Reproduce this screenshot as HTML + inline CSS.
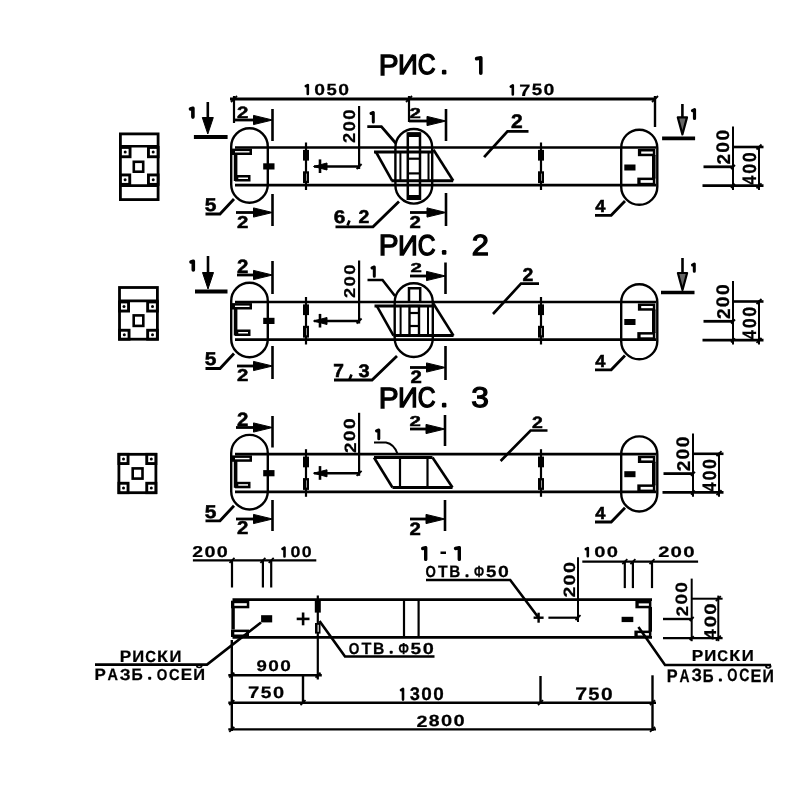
<!DOCTYPE html>
<html><head><meta charset="utf-8"><style>
html,body{margin:0;padding:0;background:#fff;}
svg{display:block;}
text{font-family:"Liberation Sans",sans-serif;fill:#000;stroke:#000;stroke-width:0.35px;text-rendering:geometricPrecision;}
</style></head><body>
<svg width="800" height="800" viewBox="0 0 800 800" stroke="#000" stroke-linecap="butt">
<defs><filter id="soft" x="0" y="0" width="800" height="800" filterUnits="userSpaceOnUse"><feGaussianBlur stdDeviation="0.3"/></filter></defs>
<rect x="0" y="0" width="800" height="800" fill="#fff" stroke="none"/>
<g stroke="#000" filter="url(#soft)">
<text transform="matrix(0.2981,0,0,0.2913,378.82,74.60)" font-size="100" font-weight="normal" style="stroke-width:4.41px">Р</text>
<text transform="matrix(0.2750,0,0,0.2768,398.00,74.10)" font-size="100" font-weight="normal" style="stroke-width:4.71px">И</text>
<text transform="matrix(0.2460,0,0,0.2831,417.77,74.32)" font-size="100" font-weight="normal" style="stroke-width:4.91px">С</text>
<rect x="441.9" y="69.7" width="4.5" height="4.7" rx="1.2" fill="#000" stroke="none"/>
<path d="M476.6,58.6 L480.8,57.9 L480.8,73.2" fill="none" stroke-width="3.6" stroke-linecap="round" stroke-linejoin="round"/>
<line x1="230.0" y1="99.0" x2="656.0" y2="99.0" stroke-width="2.8"/>
<line x1="231.0" y1="102.0" x2="237.0" y2="96.0" stroke-width="1.8"/>
<line x1="406.0" y1="102.0" x2="412.0" y2="96.0" stroke-width="1.8"/>
<line x1="652.0" y1="102.0" x2="658.0" y2="96.0" stroke-width="1.8"/>
<line x1="234.0" y1="96.0" x2="234.0" y2="123.0" stroke-width="2.2"/>
<line x1="409.0" y1="96.0" x2="409.0" y2="122.0" stroke-width="2.2"/>
<line x1="655.0" y1="96.0" x2="655.0" y2="127.0" stroke-width="2.4"/>
<path d="M305.8,86.2 L307.8,85.0 L307.8,94.0" fill="none" stroke-width="2.6" stroke-linecap="round" stroke-linejoin="round"/>
<text transform="matrix(0.1935,0,0,0.1592,314.17,94.84)" font-size="100" font-weight="bold" style="stroke-width:1.42px">0</text>
<text transform="matrix(0.1857,0,0,0.1614,326.47,94.84)" font-size="100" font-weight="bold" style="stroke-width:1.44px">5</text>
<text transform="matrix(0.1935,0,0,0.1592,338.34,94.84)" font-size="100" font-weight="bold" style="stroke-width:1.42px">0</text>
<path d="M510.8,86.6 L512.8,85.4 L512.8,94.5" fill="none" stroke-width="2.6" stroke-linecap="round" stroke-linejoin="round"/>
<text transform="matrix(0.2000,0,0,0.1652,519.20,95.50)" font-size="100" font-weight="bold" style="stroke-width:1.37px">7</text>
<text transform="matrix(0.1880,0,0,0.1629,531.64,95.34)" font-size="100" font-weight="bold" style="stroke-width:1.43px">5</text>
<text transform="matrix(0.1958,0,0,0.1606,543.62,95.34)" font-size="100" font-weight="bold" style="stroke-width:1.40px">0</text>
<line x1="235.0" y1="147.5" x2="656.0" y2="147.5" stroke-width="2.7"/>
<line x1="235.0" y1="185.2" x2="656.0" y2="185.2" stroke-width="2.7"/>
<rect x="231.2" y="128.2" width="36.6" height="74.6" rx="18.3" fill="none" stroke-width="2.4"/>
<rect x="621.2" y="129.7" width="36.1" height="75.1" rx="18.1" fill="none" stroke-width="2.4"/>
<rect x="231.7" y="148.6" width="20.3" height="6.4" fill="#000" stroke="none"/>
<rect x="235.0" y="151.1" width="14.5" height="1.4" fill="#fff" stroke="none"/>
<rect x="233.8" y="154.0" width="3.6" height="27.0" fill="#000" stroke="none"/>
<rect x="235.0" y="175.0" width="15.5" height="6.5" fill="#000" stroke="none"/>
<rect x="238.3" y="177.5" width="9.7" height="1.5" fill="#fff" stroke="none"/>
<rect x="263.2" y="163.3" width="11.3" height="6.2" fill="#000" stroke="none"/>
<rect x="637.9" y="149.0" width="17.4" height="7.2" fill="#000" stroke="none"/>
<rect x="641.2" y="151.5" width="11.6" height="2.2" fill="#fff" stroke="none"/>
<rect x="652.0" y="155.0" width="3.6" height="23.5" fill="#000" stroke="none"/>
<rect x="637.3" y="177.6" width="18.0" height="7.7" fill="#000" stroke="none"/>
<rect x="640.6" y="180.1" width="12.2" height="2.7" fill="#fff" stroke="none"/>
<rect x="624.3" y="164.5" width="11.2" height="6.0" fill="#000" stroke="none"/>
<line x1="306.0" y1="142.5" x2="306.0" y2="190.0" stroke-width="2.2"/>
<rect x="303.0" y="149.9" width="6.0" height="10.7" fill="#000" stroke="none"/>
<rect x="303.0" y="171.3" width="6.0" height="11.8" fill="#000" stroke="none"/>
<rect x="306.1" y="173.6" width="0.6" height="7.2" fill="#fff" stroke="none"/>
<line x1="541.0" y1="142.5" x2="541.0" y2="190.0" stroke-width="2.2"/>
<rect x="538.0" y="149.9" width="6.0" height="10.7" fill="#000" stroke="none"/>
<rect x="538.0" y="171.3" width="6.0" height="11.8" fill="#000" stroke="none"/>
<rect x="541.1" y="173.6" width="0.6" height="7.2" fill="#fff" stroke="none"/>
<line x1="359.1" y1="106.0" x2="359.1" y2="169.0" stroke-width="2.2"/>
<line x1="314.0" y1="166.5" x2="359.1" y2="166.5" stroke-width="2.4"/>
<line x1="320.0" y1="159.4" x2="320.0" y2="173.0" stroke-width="2.6"/>
<polygon points="313.5,166.5 327.0,163.0 327.0,170.0" fill="#000"/>
<line x1="356.6" y1="169.0" x2="361.6" y2="164.0" stroke-width="1.8"/>
<polyline points="528.5,131.4 507.5,131.4 484.1,157.1" fill="none" stroke-width="2.8"/>
<text transform="matrix(0.2102,0,0,0.1971,510.97,127.60)" font-size="100" font-weight="bold" style="stroke-width:2.70px">2</text>
<polyline points="205.5,214.0 220.0,214.0 234.0,199.0" fill="none" stroke-width="2.8"/>
<text transform="matrix(0.2100,0,0,0.1857,204.87,210.81)" font-size="100" font-weight="bold" style="stroke-width:2.78px">5</text>
<polyline points="595.0,215.3 611.2,215.3 625.0,201.0" fill="none" stroke-width="2.8"/>
<text transform="matrix(0.1830,0,0,0.1725,595.23,212.20)" font-size="100" font-weight="bold" style="stroke-width:3.09px">4</text>
<line x1="733.0" y1="126.6" x2="733.0" y2="190.0" stroke-width="2.0"/>
<line x1="759.0" y1="146.0" x2="759.0" y2="190.0" stroke-width="2.0"/>
<line x1="733.0" y1="147.0" x2="763.5" y2="147.0" stroke-width="2.6"/>
<line x1="703.5" y1="166.8" x2="733.0" y2="166.8" stroke-width="2.8"/>
<line x1="702.5" y1="185.6" x2="763.5" y2="185.6" stroke-width="2.6"/>
<line x1="756.5" y1="149.5" x2="761.5" y2="144.5" stroke-width="1.8"/>
<line x1="756.5" y1="188.3" x2="761.5" y2="183.3" stroke-width="1.8"/>
<line x1="731.0" y1="169.0" x2="735.0" y2="165.0" stroke-width="1.8"/>
<line x1="731.0" y1="187.8" x2="735.0" y2="183.8" stroke-width="1.8"/>
<text transform="matrix(0,-0.1898,0.1857,0,729.50,164.57)" font-size="100" font-weight="bold" style="stroke-width:1.33px">2</text>
<text transform="matrix(0,-0.1938,0.1831,0,729.32,152.68)" font-size="100" font-weight="bold" style="stroke-width:1.33px">0</text>
<text transform="matrix(0,-0.1938,0.1831,0,729.32,140.58)" font-size="100" font-weight="bold" style="stroke-width:1.33px">0</text>
<text transform="matrix(0,-0.1629,0.1957,0,756.00,184.83)" font-size="100" font-weight="bold" style="stroke-width:1.39px">4</text>
<text transform="matrix(0,-0.1799,0.1901,0,755.81,173.79)" font-size="100" font-weight="bold" style="stroke-width:1.35px">0</text>
<text transform="matrix(0,-0.1799,0.1901,0,755.81,162.35)" font-size="100" font-weight="bold" style="stroke-width:1.35px">0</text>
<text transform="matrix(0,-0.1830,0.1714,0,355.00,143.05)" font-size="100" font-weight="bold" style="stroke-width:1.41px">2</text>
<text transform="matrix(0,-0.1868,0.1690,0,354.83,131.48)" font-size="100" font-weight="bold" style="stroke-width:1.41px">0</text>
<text transform="matrix(0,-0.1868,0.1690,0,354.83,119.71)" font-size="100" font-weight="bold" style="stroke-width:1.41px">0</text>
<line x1="272.5" y1="109.0" x2="272.5" y2="141.0" stroke-width="2.6"/>
<line x1="235.0" y1="120.0" x2="254.5" y2="120.0" stroke-width="2.8"/>
<polygon points="253.5,115.4 272.5,120.0 253.5,124.6" fill="#000" stroke-width="1"/>
<text transform="matrix(0.2041,0,0,0.1643,236.89,117.50)" font-size="100" font-weight="bold" style="stroke-width:2.99px">2</text>
<line x1="272.5" y1="194.0" x2="272.5" y2="226.0" stroke-width="2.6"/>
<line x1="236.0" y1="212.5" x2="254.5" y2="212.5" stroke-width="2.8"/>
<polygon points="253.5,207.9 272.5,212.5 253.5,217.1" fill="#000" stroke-width="1"/>
<text transform="matrix(0.2041,0,0,0.1714,236.89,227.50)" font-size="100" font-weight="bold" style="stroke-width:2.93px">2</text>
<line x1="446.0" y1="109.0" x2="446.0" y2="141.0" stroke-width="2.6"/>
<line x1="409.0" y1="121.0" x2="428.0" y2="121.0" stroke-width="2.8"/>
<polygon points="427.0,116.4 446.0,121.0 427.0,125.6" fill="#000" stroke-width="1"/>
<text transform="matrix(0.2041,0,0,0.1429,409.39,117.50)" font-size="100" font-weight="bold" style="stroke-width:3.17px">2</text>
<line x1="446.0" y1="193.0" x2="446.0" y2="226.0" stroke-width="2.6"/>
<line x1="410.0" y1="212.5" x2="428.0" y2="212.5" stroke-width="2.8"/>
<polygon points="427.0,207.9 446.0,212.5 427.0,217.1" fill="#000" stroke-width="1"/>
<text transform="matrix(0.2041,0,0,0.1714,409.39,228.00)" font-size="100" font-weight="bold" style="stroke-width:2.93px">2</text>
<line x1="207.8" y1="102.0" x2="207.8" y2="118.5" stroke-width="2.6"/>
<polygon points="202.3,117.5 207.8,134.0 213.3,117.5" fill="#000" stroke-width="1" stroke-linejoin="round"/>
<line x1="193.9" y1="137.0" x2="227.6" y2="137.0" stroke-width="3.8"/>
<path d="M190.5,109.0 L192.9,108.3 L192.9,117.1" fill="none" stroke-width="3.6" stroke-linecap="round" stroke-linejoin="round"/>
<line x1="682.4" y1="104.0" x2="682.4" y2="118.4" stroke-width="2.6"/>
<polygon points="677.8,117.4 682.4,134.4 687.0,117.4" fill="#666" stroke-width="2.2" stroke-linejoin="round"/>
<line x1="662.1" y1="138.4" x2="695.1" y2="138.4" stroke-width="3.6"/>
<path d="M692.5,110.6 L694.5,109.7 L694.5,118.5" fill="none" stroke-width="3.2" stroke-linecap="round" stroke-linejoin="round"/>
<rect x="395.4" y="129.0" width="36.8" height="74.6" rx="18.4" fill="none" stroke-width="2.4"/>
<polyline points="374.0,152.0 433.5,152.0" fill="none" stroke-width="3"/>
<polyline points="376.0,152.0 392.0,180.7" fill="none" stroke-width="2.6"/>
<polyline points="433.5,149.7 453.2,180.7" fill="none" stroke-width="2.6"/>
<polyline points="391.4,180.7 453.2,180.7" fill="none" stroke-width="3"/>
<rect x="407.8" y="133.5" width="12.2" height="65.3" rx="0" fill="none" stroke-width="2.5"/>
<rect x="408.0" y="132.5" width="12.0" height="4.5" fill="#000" stroke="none"/>
<rect x="408.0" y="195.0" width="12.0" height="5.0" fill="#000" stroke="none"/>
<line x1="408.5" y1="158.7" x2="419.5" y2="158.7" stroke-width="2.2"/>
<line x1="408.5" y1="173.4" x2="419.5" y2="173.4" stroke-width="2.2"/>
<line x1="400.4" y1="152.0" x2="400.4" y2="180.7" stroke-width="2"/>
<line x1="428.5" y1="152.0" x2="428.5" y2="180.7" stroke-width="2"/>
<polyline points="367.3,126.7 381.4,126.7 396.0,143.5" fill="none" stroke-width="2.8"/>
<path d="M371.0,113.5 L373.3,112.5 L373.3,122.1" fill="none" stroke-width="3.0" stroke-linecap="round" stroke-linejoin="round"/>
<polyline points="335.5,226.8 373.0,226.8 399.0,201.5" fill="none" stroke-width="2.8"/>
<text transform="matrix(0.2083,0,0,0.1831,333.67,222.82)" font-size="100" font-weight="bold" style="stroke-width:2.81px">6</text>
<text transform="matrix(0.1939,0,0,0.1857,358.42,223.00)" font-size="100" font-weight="bold" style="stroke-width:2.90px">2</text>
<line x1="349.5" y1="220.5" x2="347.5" y2="225.5" stroke-width="2.6"/>
<rect x="120.4" y="133.9" width="37.7" height="65.7" rx="0" fill="none" stroke-width="2.8"/>
<line x1="120.0" y1="146.2" x2="158.0" y2="146.2" stroke-width="2.6"/>
<line x1="120.0" y1="185.6" x2="158.0" y2="185.6" stroke-width="2.6"/>
<rect x="119.0" y="146.0" width="12.5" height="12.2" fill="#000" stroke="none"/>
<rect x="121.9" y="148.9" width="6.7" height="6.4" fill="#fff" stroke="none"/>
<circle cx="125.2" cy="152.1" r="1.5" fill="#000" stroke="none"/>
<rect x="147.0" y="146.0" width="12.5" height="12.2" fill="#000" stroke="none"/>
<rect x="149.9" y="148.9" width="6.7" height="6.4" fill="#fff" stroke="none"/>
<circle cx="153.2" cy="152.1" r="1.5" fill="#000" stroke="none"/>
<rect x="119.0" y="173.5" width="12.2" height="12.3" fill="#000" stroke="none"/>
<rect x="121.9" y="176.4" width="6.4" height="6.5" fill="#fff" stroke="none"/>
<circle cx="125.1" cy="179.7" r="1.5" fill="#000" stroke="none"/>
<rect x="147.0" y="173.5" width="12.5" height="12.3" fill="#000" stroke="none"/>
<rect x="149.9" y="176.4" width="6.7" height="6.5" fill="#fff" stroke="none"/>
<circle cx="153.2" cy="179.7" r="1.5" fill="#000" stroke="none"/>
<rect x="133.8" y="161.8" width="9.4" height="9.9" rx="0" fill="none" stroke-width="2.6"/>
<text transform="matrix(0.2981,0,0,0.2942,378.82,255.00)" font-size="100" font-weight="normal" style="stroke-width:4.39px">Р</text>
<text transform="matrix(0.2750,0,0,0.2797,398.00,254.50)" font-size="100" font-weight="normal" style="stroke-width:4.69px">И</text>
<text transform="matrix(0.2460,0,0,0.2859,417.77,254.71)" font-size="100" font-weight="normal" style="stroke-width:4.89px">С</text>
<rect x="441.9" y="250.1" width="4.5" height="4.7" rx="1.2" fill="#000" stroke="none"/>
<text transform="matrix(0.3087,0,0,0.2900,471.66,255.00)" font-size="100" font-weight="normal" style="stroke-width:4.34px">2</text>
<line x1="235.0" y1="302.0" x2="656.0" y2="302.0" stroke-width="2.7"/>
<line x1="235.0" y1="339.7" x2="656.0" y2="339.7" stroke-width="2.7"/>
<rect x="231.2" y="282.7" width="36.6" height="74.6" rx="18.3" fill="none" stroke-width="2.4"/>
<rect x="621.2" y="284.2" width="36.1" height="75.1" rx="18.1" fill="none" stroke-width="2.4"/>
<rect x="231.7" y="303.1" width="20.3" height="6.4" fill="#000" stroke="none"/>
<rect x="235.0" y="305.6" width="14.5" height="1.4" fill="#fff" stroke="none"/>
<rect x="233.8" y="308.5" width="3.6" height="27.0" fill="#000" stroke="none"/>
<rect x="235.0" y="329.5" width="15.5" height="6.5" fill="#000" stroke="none"/>
<rect x="238.3" y="332.0" width="9.7" height="1.5" fill="#fff" stroke="none"/>
<rect x="263.2" y="317.8" width="11.3" height="6.2" fill="#000" stroke="none"/>
<rect x="637.9" y="303.5" width="17.4" height="7.2" fill="#000" stroke="none"/>
<rect x="641.2" y="306.0" width="11.6" height="2.2" fill="#fff" stroke="none"/>
<rect x="652.0" y="309.5" width="3.6" height="23.5" fill="#000" stroke="none"/>
<rect x="637.3" y="332.1" width="18.0" height="7.7" fill="#000" stroke="none"/>
<rect x="640.6" y="334.6" width="12.2" height="2.7" fill="#fff" stroke="none"/>
<rect x="624.3" y="319.0" width="11.2" height="6.0" fill="#000" stroke="none"/>
<line x1="306.0" y1="297.0" x2="306.0" y2="344.5" stroke-width="2.2"/>
<rect x="303.0" y="304.4" width="6.0" height="10.7" fill="#000" stroke="none"/>
<rect x="303.0" y="325.8" width="6.0" height="11.8" fill="#000" stroke="none"/>
<rect x="306.1" y="328.1" width="0.6" height="7.2" fill="#fff" stroke="none"/>
<line x1="541.0" y1="297.0" x2="541.0" y2="344.5" stroke-width="2.2"/>
<rect x="538.0" y="304.4" width="6.0" height="10.7" fill="#000" stroke="none"/>
<rect x="538.0" y="325.8" width="6.0" height="11.8" fill="#000" stroke="none"/>
<rect x="541.1" y="328.1" width="0.6" height="7.2" fill="#fff" stroke="none"/>
<line x1="359.1" y1="260.5" x2="359.1" y2="323.5" stroke-width="2.2"/>
<line x1="314.0" y1="321.0" x2="359.1" y2="321.0" stroke-width="2.4"/>
<line x1="320.0" y1="313.9" x2="320.0" y2="327.5" stroke-width="2.6"/>
<polygon points="313.5,321.0 327.0,317.5 327.0,324.5" fill="#000"/>
<line x1="356.6" y1="323.5" x2="361.6" y2="318.5" stroke-width="1.8"/>
<polyline points="539.0,283.6 521.0,283.6 493.0,314.0" fill="none" stroke-width="2.6"/>
<text transform="matrix(0.1939,0,0,0.1871,522.42,280.60)" font-size="100" font-weight="bold" style="stroke-width:2.89px">2</text>
<polyline points="205.5,368.5 220.0,368.5 234.0,353.5" fill="none" stroke-width="2.8"/>
<text transform="matrix(0.2100,0,0,0.1857,204.87,365.31)" font-size="100" font-weight="bold" style="stroke-width:2.78px">5</text>
<polyline points="595.0,369.8 611.2,369.8 625.0,355.5" fill="none" stroke-width="2.8"/>
<text transform="matrix(0.1830,0,0,0.1725,595.23,366.70)" font-size="100" font-weight="bold" style="stroke-width:3.09px">4</text>
<line x1="733.0" y1="281.1" x2="733.0" y2="344.5" stroke-width="2.0"/>
<line x1="759.0" y1="300.5" x2="759.0" y2="344.5" stroke-width="2.0"/>
<line x1="733.0" y1="301.5" x2="763.5" y2="301.5" stroke-width="2.6"/>
<line x1="703.5" y1="321.3" x2="733.0" y2="321.3" stroke-width="2.8"/>
<line x1="702.5" y1="340.1" x2="763.5" y2="340.1" stroke-width="2.6"/>
<line x1="756.5" y1="304.0" x2="761.5" y2="299.0" stroke-width="1.8"/>
<line x1="756.5" y1="342.8" x2="761.5" y2="337.8" stroke-width="1.8"/>
<line x1="731.0" y1="323.5" x2="735.0" y2="319.5" stroke-width="1.8"/>
<line x1="731.0" y1="342.3" x2="735.0" y2="338.3" stroke-width="1.8"/>
<text transform="matrix(0,-0.1898,0.1857,0,729.50,319.07)" font-size="100" font-weight="bold" style="stroke-width:1.33px">2</text>
<text transform="matrix(0,-0.1937,0.1831,0,729.32,307.17)" font-size="100" font-weight="bold" style="stroke-width:1.33px">0</text>
<text transform="matrix(0,-0.1938,0.1831,0,729.32,295.07)" font-size="100" font-weight="bold" style="stroke-width:1.33px">0</text>
<text transform="matrix(0,-0.1629,0.1957,0,756.00,339.33)" font-size="100" font-weight="bold" style="stroke-width:1.39px">4</text>
<text transform="matrix(0,-0.1799,0.1901,0,755.81,328.29)" font-size="100" font-weight="bold" style="stroke-width:1.35px">0</text>
<text transform="matrix(0,-0.1799,0.1901,0,755.81,316.85)" font-size="100" font-weight="bold" style="stroke-width:1.35px">0</text>
<text transform="matrix(0,-0.1830,0.1571,0,355.00,298.05)" font-size="100" font-weight="bold" style="stroke-width:1.47px">2</text>
<text transform="matrix(0,-0.1868,0.1549,0,354.85,286.48)" font-size="100" font-weight="bold" style="stroke-width:1.46px">0</text>
<text transform="matrix(0,-0.1868,0.1549,0,354.85,274.71)" font-size="100" font-weight="bold" style="stroke-width:1.46px">0</text>
<line x1="272.5" y1="261.0" x2="272.5" y2="294.0" stroke-width="2.6"/>
<line x1="237.0" y1="275.0" x2="254.5" y2="275.0" stroke-width="2.8"/>
<polygon points="253.5,270.4 272.5,275.0 253.5,279.6" fill="#000" stroke-width="1"/>
<text transform="matrix(0.2041,0,0,0.1929,236.89,272.50)" font-size="100" font-weight="bold" style="stroke-width:2.77px">2</text>
<line x1="272.5" y1="346.0" x2="272.5" y2="379.0" stroke-width="2.6"/>
<line x1="237.0" y1="366.0" x2="254.5" y2="366.0" stroke-width="2.8"/>
<polygon points="253.5,361.4 272.5,366.0 253.5,370.6" fill="#000" stroke-width="1"/>
<text transform="matrix(0.2041,0,0,0.1714,236.89,381.00)" font-size="100" font-weight="bold" style="stroke-width:2.93px">2</text>
<line x1="445.5" y1="262.5" x2="445.5" y2="294.0" stroke-width="2.6"/>
<line x1="410.0" y1="276.0" x2="427.5" y2="276.0" stroke-width="2.8"/>
<polygon points="426.5,271.4 445.5,276.0 426.5,280.6" fill="#000" stroke-width="1"/>
<text transform="matrix(0.2041,0,0,0.1286,410.39,271.50)" font-size="100" font-weight="bold" style="stroke-width:3.31px">2</text>
<line x1="445.5" y1="346.0" x2="445.5" y2="380.0" stroke-width="2.6"/>
<line x1="410.0" y1="367.5" x2="427.5" y2="367.5" stroke-width="2.8"/>
<polygon points="426.5,362.9 445.5,367.5 426.5,372.1" fill="#000" stroke-width="1"/>
<text transform="matrix(0.2041,0,0,0.1786,410.39,382.50)" font-size="100" font-weight="bold" style="stroke-width:2.87px">2</text>
<line x1="208.0" y1="256.0" x2="208.0" y2="273.5" stroke-width="2.6"/>
<polygon points="202.5,272.5 208.0,289.0 213.5,272.5" fill="#000" stroke-width="1" stroke-linejoin="round"/>
<line x1="195.0" y1="291.5" x2="227.5" y2="291.5" stroke-width="3.8"/>
<path d="M191.0,262.0 L193.3,261.3 L193.3,270.0" fill="none" stroke-width="3.6" stroke-linecap="round" stroke-linejoin="round"/>
<line x1="682.5" y1="258.0" x2="682.5" y2="274.0" stroke-width="2.6"/>
<polygon points="677.9,273.0 682.5,290.0 687.1,273.0" fill="#666" stroke-width="2.2" stroke-linejoin="round"/>
<line x1="661.0" y1="292.5" x2="694.5" y2="292.5" stroke-width="3.6"/>
<path d="M692.5,265.0 L694.3,264.0 L694.3,271.3" fill="none" stroke-width="3.0" stroke-linecap="round" stroke-linejoin="round"/>
<rect x="394.7" y="283.2" width="38.1" height="73.8" rx="19.1" fill="none" stroke-width="2.4"/>
<polyline points="374.5,306.1 433.9,306.1" fill="none" stroke-width="3"/>
<polyline points="376.9,306.1 393.5,335.6" fill="none" stroke-width="2.6"/>
<polyline points="433.3,303.5 453.5,335.6" fill="none" stroke-width="2.6"/>
<polyline points="393.5,335.6 453.5,335.6" fill="none" stroke-width="3"/>
<polyline points="409.0,301.0 409.0,288.2 420.2,288.2 420.2,301.0" fill="none" stroke-width="2.5"/>
<rect x="409.5" y="306.0" width="9.5" height="29.6" rx="0" fill="none" stroke-width="2.4"/>
<line x1="409.5" y1="313.0" x2="419.0" y2="313.0" stroke-width="2.2"/>
<line x1="409.5" y1="326.0" x2="419.0" y2="326.0" stroke-width="2.2"/>
<line x1="400.6" y1="306.0" x2="400.6" y2="335.6" stroke-width="2"/>
<line x1="428.0" y1="306.0" x2="428.0" y2="335.6" stroke-width="2"/>
<polyline points="367.5,280.0 382.5,280.0 395.0,296.0" fill="none" stroke-width="2.6"/>
<path d="M372.0,268.0 L374.3,267.0 L374.3,276.3" fill="none" stroke-width="3.0" stroke-linecap="round" stroke-linejoin="round"/>
<polyline points="334.0,380.0 372.0,380.0 397.0,356.0" fill="none" stroke-width="2.8"/>
<text transform="matrix(0.1915,0,0,0.1884,333.23,377.00)" font-size="100" font-weight="bold" style="stroke-width:2.90px">7</text>
<text transform="matrix(0.2000,0,0,0.1831,358.60,376.82)" font-size="100" font-weight="bold" style="stroke-width:2.87px">3</text>
<line x1="351.5" y1="374.5" x2="349.5" y2="379.5" stroke-width="2.6"/>
<rect x="119.5" y="287.5" width="37.9" height="51.7" rx="0" fill="none" stroke-width="2.8"/>
<line x1="119.0" y1="300.9" x2="158.5" y2="300.9" stroke-width="2.8"/>
<rect x="118.1" y="300.5" width="11.9" height="12.0" fill="#000" stroke="none"/>
<rect x="121.0" y="303.4" width="6.1" height="6.2" fill="#fff" stroke="none"/>
<circle cx="124.0" cy="306.5" r="1.5" fill="#000" stroke="none"/>
<rect x="146.2" y="300.5" width="12.6" height="12.0" fill="#000" stroke="none"/>
<rect x="149.1" y="303.4" width="6.8" height="6.2" fill="#fff" stroke="none"/>
<circle cx="152.5" cy="306.5" r="1.5" fill="#000" stroke="none"/>
<rect x="118.1" y="328.8" width="12.4" height="11.8" fill="#000" stroke="none"/>
<rect x="121.0" y="331.7" width="6.6" height="6.0" fill="#fff" stroke="none"/>
<circle cx="124.3" cy="334.7" r="1.5" fill="#000" stroke="none"/>
<rect x="146.2" y="328.8" width="12.6" height="11.8" fill="#000" stroke="none"/>
<rect x="149.1" y="331.7" width="6.8" height="6.0" fill="#fff" stroke="none"/>
<circle cx="152.5" cy="334.7" r="1.5" fill="#000" stroke="none"/>
<rect x="133.7" y="315.4" width="9.6" height="10.5" rx="0" fill="none" stroke-width="2.6"/>
<text transform="matrix(0.2981,0,0,0.2928,378.82,407.70)" font-size="100" font-weight="normal" style="stroke-width:4.40px">Р</text>
<text transform="matrix(0.2750,0,0,0.2783,398.00,407.20)" font-size="100" font-weight="normal" style="stroke-width:4.70px">И</text>
<text transform="matrix(0.2460,0,0,0.2845,417.77,407.42)" font-size="100" font-weight="normal" style="stroke-width:4.90px">С</text>
<rect x="441.9" y="402.8" width="4.5" height="4.7" rx="1.2" fill="#000" stroke="none"/>
<text transform="matrix(0.3170,0,0,0.2845,471.23,407.42)" font-size="100" font-weight="normal" style="stroke-width:4.32px">3</text>
<line x1="235.0" y1="454.2" x2="656.0" y2="454.2" stroke-width="2.7"/>
<line x1="235.0" y1="491.9" x2="656.0" y2="491.9" stroke-width="2.7"/>
<rect x="231.2" y="434.9" width="36.6" height="74.6" rx="18.3" fill="none" stroke-width="2.4"/>
<rect x="621.2" y="436.4" width="36.1" height="75.1" rx="18.1" fill="none" stroke-width="2.4"/>
<rect x="231.7" y="455.4" width="20.3" height="6.4" fill="#000" stroke="none"/>
<rect x="235.0" y="457.9" width="14.5" height="1.4" fill="#fff" stroke="none"/>
<rect x="233.8" y="460.8" width="3.6" height="27.0" fill="#000" stroke="none"/>
<rect x="235.0" y="481.8" width="15.5" height="6.5" fill="#000" stroke="none"/>
<rect x="238.3" y="484.2" width="9.7" height="1.5" fill="#fff" stroke="none"/>
<rect x="263.2" y="470.1" width="11.3" height="6.2" fill="#000" stroke="none"/>
<rect x="637.9" y="455.8" width="17.4" height="7.2" fill="#000" stroke="none"/>
<rect x="641.2" y="458.2" width="11.6" height="2.2" fill="#fff" stroke="none"/>
<rect x="652.0" y="461.8" width="3.6" height="23.5" fill="#000" stroke="none"/>
<rect x="637.3" y="484.4" width="18.0" height="7.7" fill="#000" stroke="none"/>
<rect x="640.6" y="486.9" width="12.2" height="2.7" fill="#fff" stroke="none"/>
<rect x="624.3" y="471.2" width="11.2" height="6.0" fill="#000" stroke="none"/>
<line x1="306.0" y1="449.2" x2="306.0" y2="496.8" stroke-width="2.2"/>
<rect x="303.0" y="456.6" width="6.0" height="10.7" fill="#000" stroke="none"/>
<rect x="303.0" y="478.1" width="6.0" height="11.8" fill="#000" stroke="none"/>
<rect x="306.1" y="480.4" width="0.6" height="7.2" fill="#fff" stroke="none"/>
<line x1="541.0" y1="449.2" x2="541.0" y2="496.8" stroke-width="2.2"/>
<rect x="538.0" y="456.6" width="6.0" height="10.7" fill="#000" stroke="none"/>
<rect x="538.0" y="478.1" width="6.0" height="11.8" fill="#000" stroke="none"/>
<rect x="541.1" y="480.4" width="0.6" height="7.2" fill="#fff" stroke="none"/>
<line x1="359.1" y1="412.8" x2="359.1" y2="475.8" stroke-width="2.2"/>
<line x1="314.0" y1="473.2" x2="359.1" y2="473.2" stroke-width="2.4"/>
<line x1="320.0" y1="466.1" x2="320.0" y2="479.8" stroke-width="2.6"/>
<polygon points="313.5,473.2 327.0,469.8 327.0,476.8" fill="#000"/>
<line x1="356.6" y1="475.8" x2="361.6" y2="470.8" stroke-width="1.8"/>
<polyline points="547.5,430.5 530.6,430.5 500.6,461.0" fill="none" stroke-width="2.6"/>
<text transform="matrix(0.1939,0,0,0.1643,531.92,427.50)" font-size="100" font-weight="bold" style="stroke-width:3.07px">2</text>
<polyline points="205.5,520.8 220.0,520.8 234.0,505.8" fill="none" stroke-width="2.8"/>
<text transform="matrix(0.2100,0,0,0.1857,204.87,517.56)" font-size="100" font-weight="bold" style="stroke-width:2.78px">5</text>
<polyline points="595.0,522.0 611.2,522.0 625.0,507.8" fill="none" stroke-width="2.8"/>
<text transform="matrix(0.1830,0,0,0.1725,595.23,518.95)" font-size="100" font-weight="bold" style="stroke-width:3.09px">4</text>
<line x1="693.0" y1="433.4" x2="693.0" y2="496.8" stroke-width="2.0"/>
<line x1="719.0" y1="452.8" x2="719.0" y2="496.8" stroke-width="2.0"/>
<line x1="693.0" y1="453.8" x2="723.5" y2="453.8" stroke-width="2.6"/>
<line x1="663.5" y1="473.6" x2="693.0" y2="473.6" stroke-width="2.8"/>
<line x1="662.5" y1="492.4" x2="723.5" y2="492.4" stroke-width="2.6"/>
<line x1="716.5" y1="456.2" x2="721.5" y2="451.2" stroke-width="1.8"/>
<line x1="716.5" y1="495.1" x2="721.5" y2="490.1" stroke-width="1.8"/>
<line x1="691.0" y1="475.8" x2="695.0" y2="471.8" stroke-width="1.8"/>
<line x1="691.0" y1="494.6" x2="695.0" y2="490.6" stroke-width="1.8"/>
<text transform="matrix(0,-0.1898,0.1857,0,689.50,471.32)" font-size="100" font-weight="bold" style="stroke-width:1.33px">2</text>
<text transform="matrix(0,-0.1937,0.1831,0,689.32,459.42)" font-size="100" font-weight="bold" style="stroke-width:1.33px">0</text>
<text transform="matrix(0,-0.1938,0.1831,0,689.32,447.32)" font-size="100" font-weight="bold" style="stroke-width:1.33px">0</text>
<text transform="matrix(0,-0.1629,0.1957,0,716.00,491.58)" font-size="100" font-weight="bold" style="stroke-width:1.39px">4</text>
<text transform="matrix(0,-0.1799,0.1901,0,715.81,480.54)" font-size="100" font-weight="bold" style="stroke-width:1.35px">0</text>
<text transform="matrix(0,-0.1799,0.1901,0,715.81,469.10)" font-size="100" font-weight="bold" style="stroke-width:1.35px">0</text>
<text transform="matrix(0,-0.1898,0.1643,0,355.50,453.07)" font-size="100" font-weight="bold" style="stroke-width:1.41px">2</text>
<text transform="matrix(0,-0.1937,0.1620,0,355.34,441.17)" font-size="100" font-weight="bold" style="stroke-width:1.41px">0</text>
<text transform="matrix(0,-0.1938,0.1620,0,355.34,429.07)" font-size="100" font-weight="bold" style="stroke-width:1.41px">0</text>
<line x1="272.5" y1="416.0" x2="272.5" y2="447.5" stroke-width="2.6"/>
<line x1="236.0" y1="427.5" x2="254.5" y2="427.5" stroke-width="2.8"/>
<polygon points="253.5,422.9 272.5,427.5 253.5,432.1" fill="#000" stroke-width="1"/>
<text transform="matrix(0.2041,0,0,0.1929,236.89,426.00)" font-size="100" font-weight="bold" style="stroke-width:2.77px">2</text>
<line x1="272.5" y1="500.0" x2="272.5" y2="531.0" stroke-width="2.6"/>
<line x1="236.0" y1="519.0" x2="254.5" y2="519.0" stroke-width="2.8"/>
<polygon points="253.5,514.4 272.5,519.0 253.5,523.6" fill="#000" stroke-width="1"/>
<text transform="matrix(0.2041,0,0,0.1857,236.89,534.00)" font-size="100" font-weight="bold" style="stroke-width:2.82px">2</text>
<line x1="445.0" y1="415.0" x2="445.0" y2="446.0" stroke-width="2.6"/>
<line x1="410.0" y1="429.0" x2="427.0" y2="429.0" stroke-width="2.8"/>
<polygon points="426.0,424.4 445.0,429.0 426.0,433.6" fill="#000" stroke-width="1"/>
<text transform="matrix(0.2041,0,0,0.1429,409.39,426.00)" font-size="100" font-weight="bold" style="stroke-width:3.17px">2</text>
<line x1="445.0" y1="500.0" x2="445.0" y2="531.0" stroke-width="2.6"/>
<line x1="410.0" y1="519.0" x2="427.0" y2="519.0" stroke-width="2.8"/>
<polygon points="426.0,514.4 445.0,519.0 426.0,523.6" fill="#000" stroke-width="1"/>
<text transform="matrix(0.2041,0,0,0.1786,409.39,535.00)" font-size="100" font-weight="bold" style="stroke-width:2.87px">2</text>
<polyline points="374.0,457.5 432.5,457.5" fill="none" stroke-width="3"/>
<polyline points="374.0,457.5 392.5,487.5" fill="none" stroke-width="2.6"/>
<polyline points="432.5,457.5 452.5,487.5" fill="none" stroke-width="2.6"/>
<polyline points="392.5,487.5 452.5,487.5" fill="none" stroke-width="3"/>
<line x1="400.0" y1="457.5" x2="400.0" y2="487.5" stroke-width="2.2"/>
<line x1="427.5" y1="457.5" x2="427.5" y2="487.5" stroke-width="2.2"/>
<path d="M374,442.5 L386,442.5 Q394,444 397.5,453.75" fill="none" stroke-width="2.0"/>
<path d="M376.5,431.0 L378.8,430.0 L378.8,438.8" fill="none" stroke-width="3.0" stroke-linecap="round" stroke-linejoin="round"/>
<rect x="118.9" y="454.3" width="37.0" height="38.4" rx="0" fill="none" stroke-width="2.8"/>
<rect x="117.5" y="452.9" width="12.0" height="12.1" fill="#000" stroke="none"/>
<rect x="120.4" y="455.8" width="6.2" height="6.3" fill="#fff" stroke="none"/>
<circle cx="123.5" cy="458.9" r="1.5" fill="#000" stroke="none"/>
<rect x="145.3" y="452.9" width="12.0" height="12.1" fill="#000" stroke="none"/>
<rect x="148.2" y="455.8" width="6.2" height="6.3" fill="#fff" stroke="none"/>
<circle cx="151.3" cy="458.9" r="1.5" fill="#000" stroke="none"/>
<rect x="117.5" y="481.8" width="12.0" height="12.3" fill="#000" stroke="none"/>
<rect x="120.4" y="484.7" width="6.2" height="6.5" fill="#fff" stroke="none"/>
<circle cx="123.5" cy="488.0" r="1.5" fill="#000" stroke="none"/>
<rect x="145.3" y="481.8" width="12.0" height="12.3" fill="#000" stroke="none"/>
<rect x="148.2" y="484.7" width="6.2" height="6.5" fill="#fff" stroke="none"/>
<circle cx="151.3" cy="488.0" r="1.5" fill="#000" stroke="none"/>
<rect x="132.7" y="468.4" width="9.8" height="10.2" rx="0" fill="none" stroke-width="2.6"/>
<path d="M422.7,548.5 L425.7,547.7 L425.7,559.4" fill="none" stroke-width="3.4" stroke-linecap="round" stroke-linejoin="round"/>
<rect x="440.5" y="551.5" width="5.5" height="2.5" fill="#000" stroke="none"/>
<path d="M455.5,548.5 L459.3,547.7 L459.3,559.4" fill="none" stroke-width="3.4" stroke-linecap="round" stroke-linejoin="round"/>
<line x1="232.5" y1="599.6" x2="652.0" y2="599.6" stroke-width="2.8"/>
<line x1="232.5" y1="637.3" x2="652.0" y2="637.3" stroke-width="2.8"/>
<rect x="231.0" y="600.7" width="18.3" height="7.6" fill="#000" stroke="none"/>
<rect x="234.3" y="603.2" width="12.5" height="2.6" fill="#fff" stroke="none"/>
<rect x="231.4" y="607.0" width="3.4" height="22.5" fill="#000" stroke="none"/>
<rect x="231.0" y="629.6" width="18.0" height="7.4" fill="#000" stroke="none"/>
<rect x="234.3" y="632.1" width="12.2" height="2.4" fill="#fff" stroke="none"/>
<rect x="261.1" y="615.2" width="11.1" height="7.2" fill="#000" stroke="none"/>
<line x1="303.1" y1="612.5" x2="303.1" y2="625.3" stroke-width="2.6"/>
<line x1="296.7" y1="618.9" x2="309.5" y2="618.9" stroke-width="2.6"/>
<rect x="635.4" y="600.9" width="16.0" height="7.4" fill="#000" stroke="none"/>
<rect x="638.7" y="603.4" width="10.2" height="2.4" fill="#fff" stroke="none"/>
<rect x="648.5" y="607.0" width="3.5" height="24.7" fill="#000" stroke="none"/>
<rect x="634.4" y="630.6" width="17.0" height="7.4" fill="#000" stroke="none"/>
<rect x="637.7" y="633.1" width="11.2" height="2.4" fill="#fff" stroke="none"/>
<rect x="621.6" y="616.8" width="11.7" height="5.3" fill="#000" stroke="none"/>
<line x1="317.8" y1="595.5" x2="317.8" y2="679.5" stroke-width="2.2"/>
<rect x="314.8" y="599.4" width="6.0" height="13.2" fill="#000" stroke="none"/>
<rect x="315.0" y="623.0" width="5.5" height="10.6" fill="#000" stroke="none"/>
<rect x="317.6" y="624.8" width="1.1" height="7.0" fill="#fff" stroke="none"/>
<line x1="404.0" y1="599.0" x2="404.0" y2="637.0" stroke-width="2.2"/>
<line x1="418.6" y1="599.0" x2="418.6" y2="637.0" stroke-width="2.2"/>
<line x1="578.0" y1="557.3" x2="578.0" y2="622.1" stroke-width="2.0"/>
<line x1="548.4" y1="617.7" x2="578.0" y2="617.7" stroke-width="2.2"/>
<line x1="533.6" y1="617.7" x2="543.6" y2="617.7" stroke-width="2.4"/>
<line x1="538.6" y1="612.7" x2="538.6" y2="622.7" stroke-width="2.4"/>
<line x1="575.5" y1="620.2" x2="580.5" y2="615.2" stroke-width="1.8"/>
<text transform="matrix(0,-0.1939,0.1643,0,575.00,597.48)" font-size="100" font-weight="bold" style="stroke-width:1.40px">2</text>
<text transform="matrix(0,-0.1979,0.1620,0,574.84,585.39)" font-size="100" font-weight="bold" style="stroke-width:1.39px">0</text>
<text transform="matrix(0,-0.1979,0.1620,0,574.84,573.09)" font-size="100" font-weight="bold" style="stroke-width:1.39px">0</text>
<text transform="matrix(0.1939,0,0,0.1571,192.32,557.40)" font-size="100" font-weight="bold" style="stroke-width:1.42px">2</text>
<text transform="matrix(0.1979,0,0,0.1549,204.41,557.25)" font-size="100" font-weight="bold" style="stroke-width:1.42px">0</text>
<text transform="matrix(0.1979,0,0,0.1549,216.71,557.25)" font-size="100" font-weight="bold" style="stroke-width:1.42px">0</text>
<path d="M282.5,548.9 L284.5,547.7 L284.5,556.4" fill="none" stroke-width="2.6" stroke-linecap="round" stroke-linejoin="round"/>
<text transform="matrix(0.1775,0,0,0.1549,290.55,557.25)" font-size="100" font-weight="bold" style="stroke-width:1.50px">0</text>
<text transform="matrix(0.1775,0,0,0.1549,301.87,557.25)" font-size="100" font-weight="bold" style="stroke-width:1.50px">0</text>
<line x1="192.9" y1="560.4" x2="316.3" y2="560.4" stroke-width="2.4"/>
<line x1="232.0" y1="560.0" x2="232.0" y2="587.5" stroke-width="2.2"/>
<line x1="262.9" y1="560.0" x2="262.9" y2="587.5" stroke-width="2.2"/>
<line x1="271.2" y1="560.0" x2="271.2" y2="587.5" stroke-width="2.2"/>
<line x1="229.5" y1="562.9" x2="234.5" y2="557.9" stroke-width="1.8"/>
<line x1="260.4" y1="562.9" x2="265.4" y2="557.9" stroke-width="1.8"/>
<line x1="268.7" y1="562.9" x2="273.7" y2="557.9" stroke-width="1.8"/>
<path d="M585.8,549.2 L587.8,548.0 L587.8,556.3" fill="none" stroke-width="2.6" stroke-linecap="round" stroke-linejoin="round"/>
<text transform="matrix(0.2025,0,0,0.1493,594.35,557.15)" font-size="100" font-weight="bold" style="stroke-width:1.42px">0</text>
<text transform="matrix(0.2025,0,0,0.1493,606.87,557.15)" font-size="100" font-weight="bold" style="stroke-width:1.42px">0</text>
<text transform="matrix(0.2007,0,0,0.1514,658.20,557.30)" font-size="100" font-weight="bold" style="stroke-width:1.42px">2</text>
<text transform="matrix(0.2049,0,0,0.1493,670.61,557.15)" font-size="100" font-weight="bold" style="stroke-width:1.41px">0</text>
<text transform="matrix(0.2049,0,0,0.1493,683.25,557.15)" font-size="100" font-weight="bold" style="stroke-width:1.41px">0</text>
<line x1="582.3" y1="561.6" x2="698.1" y2="561.6" stroke-width="2.4"/>
<line x1="624.8" y1="561.6" x2="624.8" y2="588.1" stroke-width="2.2"/>
<line x1="632.9" y1="561.6" x2="632.9" y2="588.1" stroke-width="2.2"/>
<line x1="652.0" y1="561.6" x2="652.0" y2="588.1" stroke-width="2.2"/>
<line x1="622.3" y1="564.1" x2="627.3" y2="559.1" stroke-width="1.8"/>
<line x1="630.4" y1="564.1" x2="635.4" y2="559.1" stroke-width="1.8"/>
<line x1="649.5" y1="564.1" x2="654.5" y2="559.1" stroke-width="1.8"/>
<line x1="691.7" y1="578.6" x2="691.7" y2="641.2" stroke-width="2.0"/>
<line x1="718.3" y1="595.6" x2="718.3" y2="641.2" stroke-width="2.0"/>
<line x1="691.7" y1="598.7" x2="722.6" y2="598.7" stroke-width="2.0"/>
<line x1="663.0" y1="619.0" x2="691.7" y2="619.0" stroke-width="2.4"/>
<line x1="663.0" y1="638.1" x2="722.6" y2="638.1" stroke-width="2.4"/>
<text transform="matrix(0,-0.1857,0.1671,0,687.50,616.26)" font-size="100" font-weight="bold" style="stroke-width:1.42px">2</text>
<text transform="matrix(0,-0.1896,0.1648,0,687.34,604.56)" font-size="100" font-weight="bold" style="stroke-width:1.41px">0</text>
<text transform="matrix(0,-0.1896,0.1648,0,687.34,592.66)" font-size="100" font-weight="bold" style="stroke-width:1.41px">0</text>
<text transform="matrix(0,-0.1849,0.1696,0,716.20,639.47)" font-size="100" font-weight="bold" style="stroke-width:1.41px">4</text>
<text transform="matrix(0,-0.2042,0.1648,0,716.04,627.32)" font-size="100" font-weight="bold" style="stroke-width:1.36px">0</text>
<text transform="matrix(0,-0.2042,0.1648,0,716.04,614.72)" font-size="100" font-weight="bold" style="stroke-width:1.36px">0</text>
<line x1="715.8" y1="601.2" x2="720.8" y2="596.2" stroke-width="1.8"/>
<line x1="715.8" y1="640.6" x2="720.8" y2="635.6" stroke-width="1.8"/>
<line x1="689.7" y1="621.0" x2="693.7" y2="617.0" stroke-width="1.8"/>
<line x1="689.7" y1="640.1" x2="693.7" y2="636.1" stroke-width="1.8"/>
<text transform="matrix(0.1331,0,0,0.1606,425.47,577.04)" font-size="100" font-weight="bold" style="stroke-width:1.70px">О</text>
<text transform="matrix(0.1579,0,0,0.1652,437.96,577.20)" font-size="100" font-weight="bold" style="stroke-width:1.55px">Т</text>
<text transform="matrix(0.1527,0,0,0.1652,449.16,577.20)" font-size="100" font-weight="bold" style="stroke-width:1.57px">В</text>
<rect x="465.5" y="574.2" width="3" height="3" rx="0.8" fill="#000" stroke="none"/>
<text transform="matrix(0.1179,0,0,0.1606,474.10,577.04)" font-size="100" font-weight="bold" style="stroke-width:1.80px">Ф</text>
<text transform="matrix(0.1863,0,0,0.1629,486.01,577.04)" font-size="100" font-weight="bold" style="stroke-width:1.43px">5</text>
<text transform="matrix(0.1940,0,0,0.1606,497.91,577.04)" font-size="100" font-weight="bold" style="stroke-width:1.41px">0</text>
<polyline points="426.0,580.0 510.2,580.0 538.6,617.7" fill="none" stroke-width="2.6"/>
<text transform="matrix(0.1367,0,0,0.1585,348.75,653.59)" font-size="100" font-weight="bold" style="stroke-width:1.69px">О</text>
<text transform="matrix(0.1622,0,0,0.1630,361.51,653.75)" font-size="100" font-weight="bold" style="stroke-width:1.54px">Т</text>
<text transform="matrix(0.1569,0,0,0.1630,372.94,653.75)" font-size="100" font-weight="bold" style="stroke-width:1.56px">В</text>
<rect x="389.7" y="650.8" width="3" height="3" rx="0.8" fill="#000" stroke="none"/>
<text transform="matrix(0.1212,0,0,0.1585,398.42,653.59)" font-size="100" font-weight="bold" style="stroke-width:1.79px">Ф</text>
<text transform="matrix(0.1914,0,0,0.1607,410.58,653.59)" font-size="100" font-weight="bold" style="stroke-width:1.42px">5</text>
<text transform="matrix(0.1994,0,0,0.1585,422.73,653.59)" font-size="100" font-weight="bold" style="stroke-width:1.40px">0</text>
<polyline points="434.5,656.5 345.0,656.5 319.5,621.0" fill="none" stroke-width="2.6"/>
<text transform="matrix(0.1718,0,0,0.1652,119.70,662.00)" font-size="100" font-weight="bold" style="stroke-width:1.48px">Р</text>
<text transform="matrix(0.1659,0,0,0.1652,132.16,662.00)" font-size="100" font-weight="bold" style="stroke-width:1.51px">И</text>
<text transform="matrix(0.1480,0,0,0.1606,145.15,661.84)" font-size="100" font-weight="bold" style="stroke-width:1.62px">С</text>
<text transform="matrix(0.1781,0,0,0.1652,156.91,662.00)" font-size="100" font-weight="bold" style="stroke-width:1.46px">К</text>
<text transform="matrix(0.1659,0,0,0.1652,169.42,662.00)" font-size="100" font-weight="bold" style="stroke-width:1.51px">И</text>
<text transform="matrix(0.1700,0,0,0.1638,94.51,679.80)" font-size="100" font-weight="bold" style="stroke-width:1.50px">Р</text>
<text transform="matrix(0.1443,0,0,0.1638,107.59,679.80)" font-size="100" font-weight="bold" style="stroke-width:1.62px">А</text>
<text transform="matrix(0.1731,0,0,0.1592,119.83,679.64)" font-size="100" font-weight="bold" style="stroke-width:1.50px">З</text>
<text transform="matrix(0.1561,0,0,0.1638,131.57,679.80)" font-size="100" font-weight="bold" style="stroke-width:1.56px">Б</text>
<rect x="148.2" y="676.8" width="3" height="3" rx="0.8" fill="#000" stroke="none"/>
<text transform="matrix(0.1360,0,0,0.1592,156.77,679.64)" font-size="100" font-weight="bold" style="stroke-width:1.69px">О</text>
<text transform="matrix(0.1465,0,0,0.1592,169.05,679.64)" font-size="100" font-weight="bold" style="stroke-width:1.64px">С</text>
<text transform="matrix(0.1700,0,0,0.1638,180.77,679.80)" font-size="100" font-weight="bold" style="stroke-width:1.50px">Е</text>
<text transform="matrix(0.1642,0,0,0.1614,193.13,679.80)" font-size="100" font-weight="bold" style="stroke-width:1.54px">Й</text>
<polyline points="95.0,664.6 207.0,664.6 261.0,622.4" fill="none" stroke-width="2.6"/>
<text transform="matrix(0.1725,0,0,0.1594,691.79,661.30)" font-size="100" font-weight="bold" style="stroke-width:1.51px">Р</text>
<text transform="matrix(0.1666,0,0,0.1594,704.29,661.30)" font-size="100" font-weight="bold" style="stroke-width:1.53px">И</text>
<text transform="matrix(0.1486,0,0,0.1549,717.33,661.15)" font-size="100" font-weight="bold" style="stroke-width:1.65px">С</text>
<text transform="matrix(0.1789,0,0,0.1594,729.13,661.30)" font-size="100" font-weight="bold" style="stroke-width:1.48px">К</text>
<text transform="matrix(0.1666,0,0,0.1594,741.67,661.30)" font-size="100" font-weight="bold" style="stroke-width:1.53px">И</text>
<text transform="matrix(0.1635,0,0,0.1826,666.86,681.60)" font-size="100" font-weight="bold" style="stroke-width:1.44px">Р</text>
<text transform="matrix(0.1387,0,0,0.1826,679.54,681.60)" font-size="100" font-weight="bold" style="stroke-width:1.56px">А</text>
<text transform="matrix(0.1665,0,0,0.1775,691.41,681.42)" font-size="100" font-weight="bold" style="stroke-width:1.45px">З</text>
<text transform="matrix(0.1501,0,0,0.1826,702.82,681.60)" font-size="100" font-weight="bold" style="stroke-width:1.50px">Б</text>
<rect x="718.9" y="678.6" width="3" height="3" rx="0.8" fill="#000" stroke="none"/>
<text transform="matrix(0.1308,0,0,0.1775,727.25,681.42)" font-size="100" font-weight="bold" style="stroke-width:1.62px">О</text>
<text transform="matrix(0.1409,0,0,0.1775,739.17,681.42)" font-size="100" font-weight="bold" style="stroke-width:1.57px">С</text>
<text transform="matrix(0.1635,0,0,0.1826,750.54,681.60)" font-size="100" font-weight="bold" style="stroke-width:1.44px">Е</text>
<text transform="matrix(0.1579,0,0,0.1800,762.54,681.60)" font-size="100" font-weight="bold" style="stroke-width:1.48px">Й</text>
<polyline points="638.4,626.9 665.0,665.0 771.0,665.0" fill="none" stroke-width="2.6"/>
<line x1="231.8" y1="640.0" x2="231.8" y2="731.0" stroke-width="2.4"/>
<line x1="652.5" y1="675.3" x2="652.5" y2="731.0" stroke-width="2.4"/>
<line x1="540.5" y1="676.0" x2="540.5" y2="704.0" stroke-width="2.4"/>
<line x1="303.0" y1="675.2" x2="303.0" y2="702.7" stroke-width="2.4"/>
<line x1="228.3" y1="675.2" x2="321.8" y2="675.2" stroke-width="2.4"/>
<line x1="228.3" y1="702.7" x2="656.0" y2="702.7" stroke-width="2.4"/>
<line x1="228.3" y1="729.4" x2="656.0" y2="729.4" stroke-width="2.4"/>
<line x1="229.3" y1="677.7" x2="234.3" y2="672.7" stroke-width="1.8"/>
<line x1="315.5" y1="677.7" x2="320.5" y2="672.7" stroke-width="1.8"/>
<line x1="229.3" y1="705.2" x2="234.3" y2="700.2" stroke-width="1.8"/>
<line x1="300.5" y1="705.2" x2="305.5" y2="700.2" stroke-width="1.8"/>
<line x1="538.0" y1="705.2" x2="543.0" y2="700.2" stroke-width="1.8"/>
<line x1="650.0" y1="705.2" x2="655.0" y2="700.2" stroke-width="1.8"/>
<line x1="229.3" y1="731.9" x2="234.3" y2="726.9" stroke-width="1.8"/>
<line x1="650.0" y1="731.9" x2="655.0" y2="726.9" stroke-width="1.8"/>
<text transform="matrix(0.1864,0,0,0.1549,256.54,671.45)" font-size="100" font-weight="bold" style="stroke-width:1.46px">9</text>
<text transform="matrix(0.1903,0,0,0.1549,268.27,671.45)" font-size="100" font-weight="bold" style="stroke-width:1.45px">0</text>
<text transform="matrix(0.1903,0,0,0.1549,280.21,671.45)" font-size="100" font-weight="bold" style="stroke-width:1.45px">0</text>
<text transform="matrix(0.2043,0,0,0.1667,248.08,698.30)" font-size="100" font-weight="bold" style="stroke-width:1.35px">7</text>
<text transform="matrix(0.1920,0,0,0.1643,260.72,698.14)" font-size="100" font-weight="bold" style="stroke-width:1.40px">5</text>
<text transform="matrix(0.2000,0,0,0.1620,272.90,698.14)" font-size="100" font-weight="bold" style="stroke-width:1.38px">0</text>
<path d="M401.0,690.1 L403.0,688.9 L403.0,699.6" fill="none" stroke-width="2.6" stroke-linecap="round" stroke-linejoin="round"/>
<text transform="matrix(0.1823,0,0,0.1831,409.69,700.42)" font-size="100" font-weight="bold" style="stroke-width:1.37px">3</text>
<text transform="matrix(0.1899,0,0,0.1831,421.21,700.42)" font-size="100" font-weight="bold" style="stroke-width:1.34px">0</text>
<text transform="matrix(0.1899,0,0,0.1831,433.13,700.42)" font-size="100" font-weight="bold" style="stroke-width:1.34px">0</text>
<text transform="matrix(0.2149,0,0,0.1812,575.14,700.30)" font-size="100" font-weight="bold" style="stroke-width:1.26px">7</text>
<text transform="matrix(0.2020,0,0,0.1786,588.29,700.12)" font-size="100" font-weight="bold" style="stroke-width:1.31px">5</text>
<text transform="matrix(0.2104,0,0,0.1761,600.96,700.12)" font-size="100" font-weight="bold" style="stroke-width:1.29px">0</text>
<text transform="matrix(0.1969,0,0,0.1629,416.41,726.60)" font-size="100" font-weight="bold" style="stroke-width:1.39px">2</text>
<text transform="matrix(0.1930,0,0,0.1606,428.87,726.44)" font-size="100" font-weight="bold" style="stroke-width:1.41px">8</text>
<text transform="matrix(0.2010,0,0,0.1606,441.10,726.44)" font-size="100" font-weight="bold" style="stroke-width:1.38px">0</text>
<text transform="matrix(0.2010,0,0,0.1606,453.55,726.44)" font-size="100" font-weight="bold" style="stroke-width:1.38px">0</text>
</g>
</svg>
</body></html>
